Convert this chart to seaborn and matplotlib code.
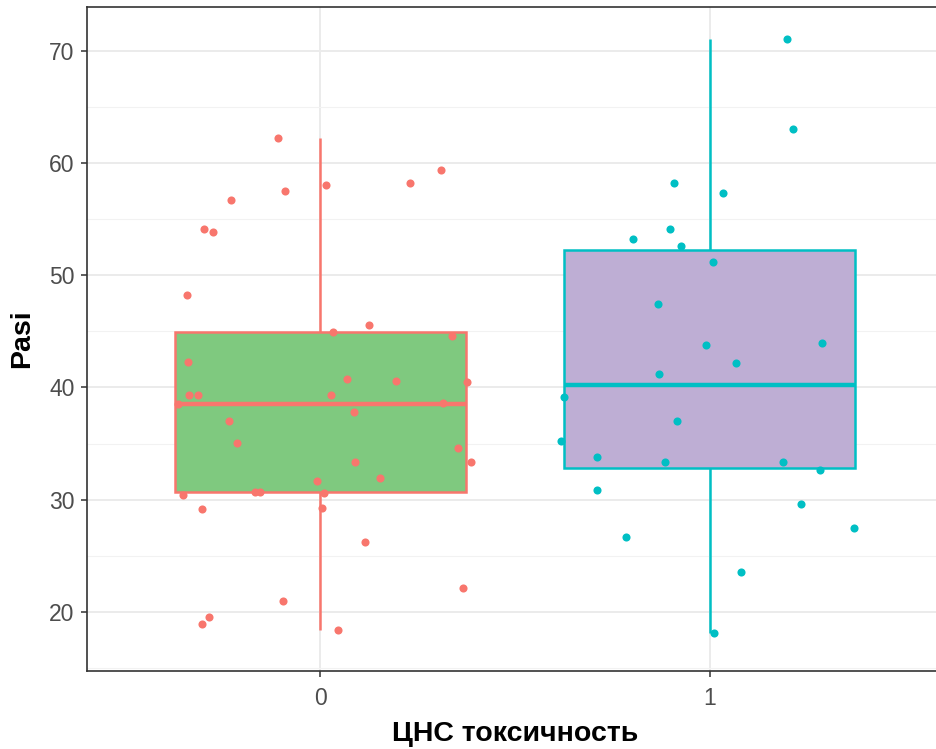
import numpy as np
import pandas as pd
import matplotlib
matplotlib.use("Agg")
import matplotlib.pyplot as plt
import seaborn as sns

# Pasi scores by CNS toxicity group, with the horizontal jitter of each point
pasi_0 = [62.27, 59.42, 58.24, 58.06, 57.55, 56.69, 54.10, 53.87, 48.25, 45.55,
          44.93, 44.57, 42.25, 40.77, 40.59, 40.53, 39.31, 39.31, 39.34, 38.65,
          37.83, 37.00, 35.03, 34.59, 33.34, 33.34, 31.92, 31.68, 30.43, 30.70,
          30.70, 30.58, 29.27, 29.12, 26.24, 22.11, 20.98, 19.50, 18.93, 18.33,
          38.54]
jitter_0 = [-0.110, 0.310, 0.231, 0.015, -0.092, -0.231, -0.300, -0.277, -0.344, 0.126,
            0.033, 0.338, -0.341, 0.067, 0.195, 0.377, -0.338, -0.315, 0.026, 0.315,
            0.087, -0.236, -0.215, 0.354, 0.387, 0.090, 0.154, -0.008, -0.354, -0.169,
            -0.156, 0.010, 0.005, -0.305, 0.115, 0.367, -0.097, -0.287, -0.305, 0.046,
            -0.367]

pasi_1 = [71.13, 63.02, 58.24, 57.32, 53.24, 54.10, 52.62, 51.19, 47.48, 44.00,
          43.83, 42.22, 41.21, 39.16, 37.00, 35.18, 33.78, 33.31, 33.31, 32.68,
          30.81, 29.60, 27.49, 26.68, 23.54, 18.07]
jitter_1 = [0.199, 0.214, -0.092, 0.035, -0.198, -0.101, -0.074, 0.008, -0.133, 0.290,
            -0.009, 0.068, -0.131, -0.374, -0.084, -0.381, -0.290, -0.115, 0.188, 0.285,
            -0.290, 0.234, 0.372, -0.216, 0.081, 0.011]

groups = [0, 1]
group_labels = ["0", "1"]
fill_colors = ["#7FC97F", "#BEAED4"]
edge_colors = ["#F8766D", "#00BFC4"]

df = pd.DataFrame({
    "group": [0] * len(pasi_0) + [1] * len(pasi_1),
    "pasi": pasi_0 + pasi_1,
    "jitter": jitter_0 + jitter_1,
})
df["xpos"] = df["group"] + df["jitter"]

sns.set_theme(style="white")
plt.rcParams["font.family"] = ["Liberation Sans", "DejaVu Sans"]

fig = plt.figure(figsize=(9.37, 7.49), dpi=100)
ax = fig.add_axes([87 / 937, 1 - 671 / 749, (943 - 87) / 937, (671 - 7) / 749])

for g, fc, ec in zip(groups, fill_colors, edge_colors):
    sub = df[df["group"] == g]
    sns.boxplot(data=sub, x="group", y="pasi", native_scale=True, ax=ax,
                width=0.75, color=fc, saturation=1, linecolor=ec, linewidth=1.8,
                showfliers=False, whis=1.5,
                medianprops={"linewidth": 3.2, "color": ec},
                capprops={"linewidth": 0},
                boxprops={"zorder": 2}, whiskerprops={"zorder": 2})
    sns.scatterplot(data=sub, x="xpos", y="pasi", ax=ax, color=ec, s=34,
                    linewidth=0, zorder=4, legend=False)

ax.set_xlim(-0.6, 1.6)
ax.set_ylim(14.7, 73.95)
ax.set_xticks(groups)
ax.set_xticklabels(group_labels)
ax.set_yticks([20, 30, 40, 50, 60, 70])
ax.set_yticks([15, 25, 35, 45, 55, 65], minor=True)

ax.set_axisbelow(True)
ax.grid(which="major", axis="both", color="#EBEBEB", linewidth=1.4)
ax.grid(which="minor", axis="y", color="#F2F2F2", linewidth=0.8)

for side in ax.spines.values():
    side.set_color("#333333")
    side.set_linewidth(1.2)

ax.tick_params(axis="both", which="major", length=4.5, width=1.1, color="#333333",
               labelcolor="#4D4D4D", labelsize=16.5, pad=4.5,
               bottom=True, left=True)
ax.tick_params(axis="x", which="major", pad=7)
ax.tick_params(axis="both", which="minor", length=0)

ax.set_xlabel("ЦНС токсичность", fontsize=20.5, fontweight="bold", color="black", labelpad=8)
ax.set_ylabel("Pasi", fontsize=20.5, fontweight="bold", color="black", labelpad=10)

fig.savefig("out.png", dpi=100)
